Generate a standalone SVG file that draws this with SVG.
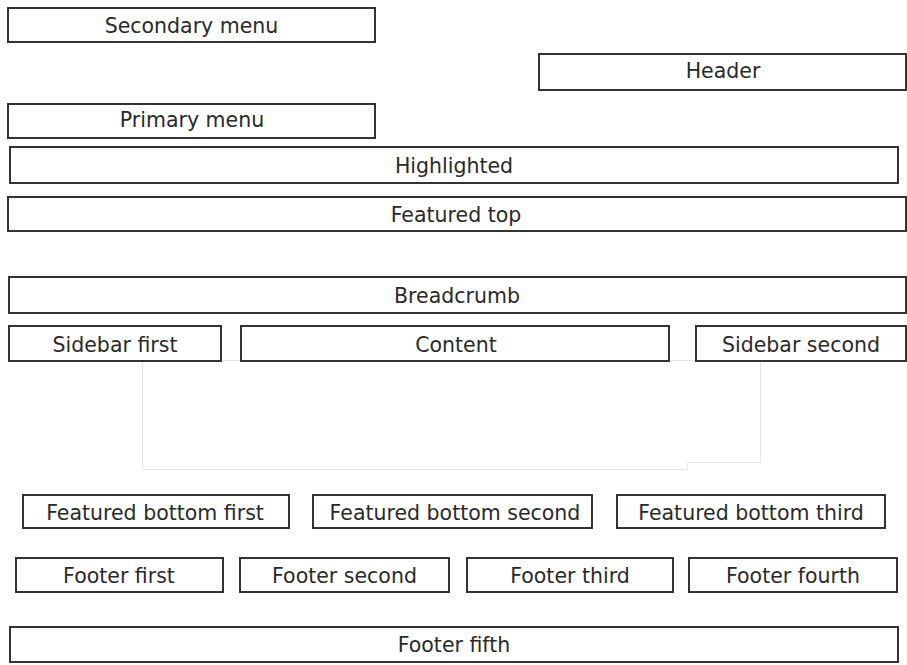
<svg xmlns="http://www.w3.org/2000/svg" width="907" height="665" viewBox="0 0 907 665">
<style>
.box{fill:#fff;stroke:#333;stroke-width:2}
.lbl{font-family:"DejaVu Sans",Verdana,sans-serif;font-size:20.5px;fill:#2a2a2a;text-anchor:middle}
.faint{fill:none;stroke:#e6e6e6;stroke-width:1}
</style>
<rect width="907" height="665" fill="#fff"/>
<g id="content-area-outline">
<path class="faint" d="M142.5,360.5 H760.5 V462.5 H687.5 V469.5 H142.5 Z"/>
</g>
<g id="secondary-menu"><rect class="box" x="8" y="8" width="367" height="34"/><text class="lbl" x="191.5" y="33">Secondary menu</text></g>
<g id="header"><rect class="box" x="539" y="54" width="367" height="36"/><text class="lbl" x="723" y="78">Header</text></g>
<g id="primary-menu"><rect class="box" x="8" y="104" width="367" height="34"/><text class="lbl" x="192" y="127">Primary menu</text></g>
<g id="highlighted"><rect class="box" x="10" y="147" width="888" height="36"/><text class="lbl" x="454" y="173">Highlighted</text></g>
<g id="featured-top"><rect class="box" x="8" y="197" width="898" height="34"/><text class="lbl" x="456" y="222">Featured top</text></g>
<g id="breadcrumb"><rect class="box" x="9" y="277" width="897" height="36"/><text class="lbl" x="457" y="303">Breadcrumb</text></g>
<g id="sidebar-first"><rect class="box" x="9" y="326" width="212" height="35"/><text class="lbl" x="115" y="351.5">Sidebar first</text></g>
<g id="content"><rect class="box" x="241" y="326" width="428" height="35"/><text class="lbl" x="456" y="351.5">Content</text></g>
<g id="sidebar-second"><rect class="box" x="696" y="326" width="210" height="35"/><text class="lbl" x="801" y="351.5">Sidebar second</text></g>
<g id="featured-bottom-first"><rect class="box" x="23" y="495" width="266" height="33"/><text class="lbl" x="155" y="520">Featured bottom first</text></g>
<g id="featured-bottom-second"><rect class="box" x="313" y="495" width="279" height="33"/><text class="lbl" x="455" y="520">Featured bottom second</text></g>
<g id="featured-bottom-third"><rect class="box" x="617" y="495" width="268" height="33"/><text class="lbl" x="751" y="520">Featured bottom third</text></g>
<g id="footer-first"><rect class="box" x="16" y="558" width="207" height="34"/><text class="lbl" x="119" y="583">Footer first</text></g>
<g id="footer-second"><rect class="box" x="240" y="558" width="209" height="34"/><text class="lbl" x="344.5" y="583">Footer second</text></g>
<g id="footer-third"><rect class="box" x="467" y="558" width="206" height="34"/><text class="lbl" x="570" y="583">Footer third</text></g>
<g id="footer-fourth"><rect class="box" x="689" y="558" width="208" height="34"/><text class="lbl" x="793" y="583">Footer fourth</text></g>
<g id="footer-fifth"><rect class="box" x="10" y="627" width="888" height="35"/><text class="lbl" x="454" y="652">Footer fifth</text></g>
</svg>
